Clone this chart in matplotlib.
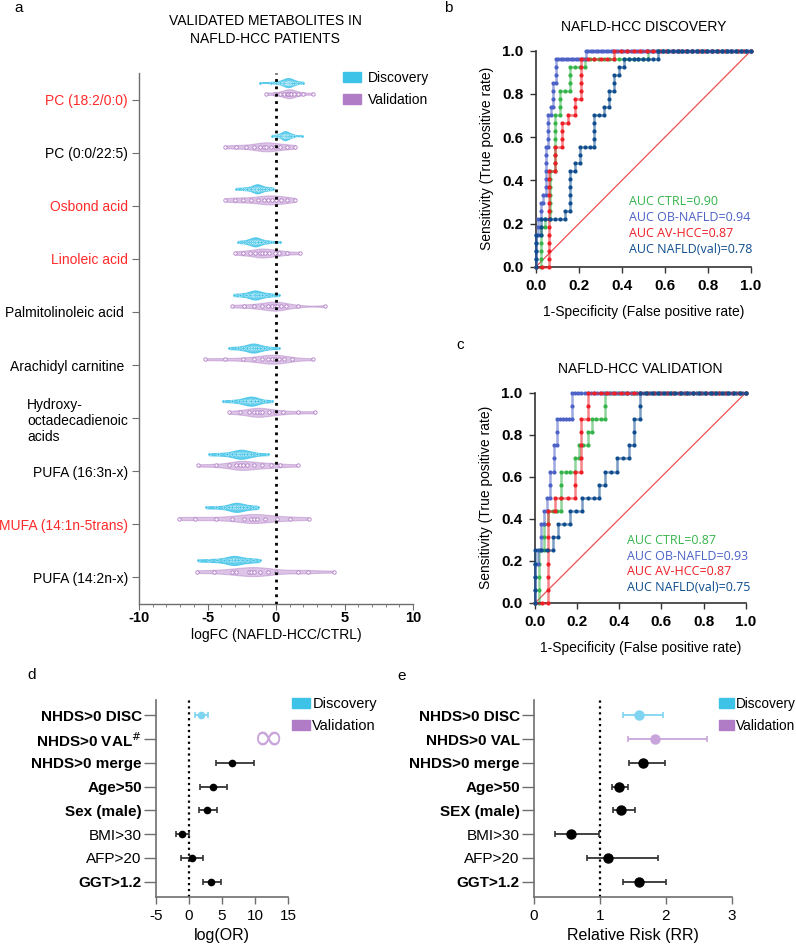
import numpy as np
import matplotlib
matplotlib.use("Agg")
import matplotlib.pyplot as plt
import matplotlib.ticker as ticker
from matplotlib.patches import Patch

plt.rcParams['font.family'] = ['Liberation Sans', 'DejaVu Sans']
plt.rcParams['axes.unicode_minus'] = False

# ---------------- panel a data ----------------
metabolites = ['PC (18:2/0:0)', 'PC (0:0/22:5)', 'Osbond acid', 'Linoleic acid',
               'Palmitolinoleic acid ', 'Arachidyl carnitine ',
               'Hydroxy-\noctadecadienoic\nacids', 'PUFA (16:3n-x)',
               'MUFA (14:1n-5trans)', 'PUFA (14:2n-x)']
metab_red = [True, False, True, True, False, False, False, False, True, False]

disc_fc = [
    [-1.2, -0.4, 0.0, 0.3, 0.5, 0.6, 0.7, 0.8, 0.85, 0.9, 0.95, 1.0, 1.1, 1.2, 1.35, 1.6, 2.0],
    [-0.3, 0.1, 0.3, 0.45, 0.55, 0.6, 0.65, 0.7, 0.75, 0.85, 0.95, 1.1, 1.3, 1.9],
    [-2.9, -2.4, -2.1, -1.8, -1.6, -1.5, -1.4, -1.35, -1.3, -1.2, -1.0, -0.8, -0.5, -0.2],
    [-2.75, -2.3, -2.0, -1.8, -1.65, -1.55, -1.5, -1.4, -1.3, -1.1, -0.8, -0.4, 0.3],
    [-3.1, -2.6, -2.2, -1.9, -1.7, -1.6, -1.5, -1.4, -1.25, -1.0, -0.7, -0.3, 0.2],
    [-3.4, -2.8, -2.4, -2.1, -1.9, -1.75, -1.65, -1.55, -1.4, -1.2, -0.9, -0.5, 0.2],
    [-3.9, -3.2, -2.7, -2.4, -2.2, -2.0, -1.9, -1.8, -1.6, -1.5, -1.3, -0.9, -0.3],
    [-4.9, -4.2, -3.6, -3.2, -2.9, -2.7, -2.6, -2.5, -2.3, -2.1, -1.8, -1.4, -0.55],
    [-5.1, -4.4, -3.8, -3.4, -3.2, -3.0, -2.9, -2.8, -2.6, -2.4, -2.1, -1.7, -1.3],
    [-5.7, -4.9, -4.3, -3.8, -3.4, -3.2, -3.1, -3.0, -2.8, -2.5, -2.1, -1.7, -1.2],
]
val_fc = [
    [-0.7, -0.1, 0.3, 0.6, 0.8, 0.9, 1.0, 1.1, 1.3, 1.6, 2.0, 2.7],
    [-3.7, -2.9, -2.2, -1.6, -1.2, -0.9, -0.7, -0.4, -0.1, 0.3, 0.8, 1.4],
    [-3.7, -3.0, -2.4, -1.8, -1.3, -0.9, -0.6, -0.3, 0.0, 0.4, 0.8, 1.4],
    [-3.0, -2.4, -1.9, -1.5, -1.2, -1.0, -0.8, -0.5, -0.1, 0.2, 0.8, 1.75],
    [-3.2, -2.3, -1.6, -1.0, -0.6, -0.3, -0.1, 0.1, 0.4, 0.7, 1.6, 3.6],
    [-5.2, -3.7, -2.4, -1.6, -1.0, -0.6, -0.3, -0.1, 0.2, 0.6, 1.2, 2.7],
    [-3.4, -2.6, -2.0, -1.6, -1.4, -1.2, -1.0, -0.5, -0.1, 0.5, 1.6, 2.85],
    [-5.7, -4.4, -3.4, -2.9, -2.6, -2.4, -2.1, -1.6, -1.0, -0.4, 0.3, 1.6],
    [-7.1, -5.9, -4.4, -3.2, -2.3, -1.8, -1.6, -1.4, -0.8, 0.1, 1.0, 2.4],
    [-5.8, -4.5, -3.2, -2.9, -2.0, -1.8, -1.6, -1.2, -0.6, 0.0, 1.6, 2.3, 4.2],
]

# ---------------- ROC data (cumulative FP / TP counts at curve corners) ----------------
roc_names = ['AUC CTRL', 'AUC OB-NAFLD', 'AUC AV-HCC', 'AUC NAFLD(val)']
roc_colors = ['#35b44a', '#4c62c6', '#ee1f26', '#0f4d8f']

disc_npos = 27
disc_nneg = [44, 86, 33, 44]
disc_auc = ['0.90', '0.94', '0.87', '0.78']
disc_fp = [
    [0, 1, 1, 2, 2, 3, 3, 4, 4, 5, 5, 7, 7, 10, 10, 23, 23, 44],
    [0, 0, 1, 1, 2, 2, 3, 3, 4, 4, 5, 5, 6, 6, 7, 7, 8, 8, 20, 20, 86],
    [0, 2, 2, 3, 3, 4, 4, 5, 5, 6, 6, 7, 7, 12, 12, 33],
    [0, 0, 1, 1, 6, 6, 7, 7, 8, 8, 9, 9, 12, 12, 14, 14, 15, 15, 16, 16, 17, 17, 18, 18, 25, 25, 44],
]
disc_tp = [
    [0, 0, 5, 5, 6, 6, 12, 12, 19, 19, 22, 22, 25, 25, 26, 26, 27, 27],
    [0, 4, 4, 6, 6, 8, 8, 9, 9, 15, 15, 19, 19, 20, 20, 23, 23, 26, 26, 27, 27],
    [0, 0, 12, 12, 15, 15, 18, 18, 19, 19, 21, 21, 26, 26, 27, 27],
    [0, 4, 4, 6, 6, 7, 7, 12, 12, 13, 13, 15, 15, 19, 19, 20, 20, 22, 22, 24, 24, 25, 25, 26, 26, 27, 27],
]

val_npos = 16
val_nneg = [48, 68, 32, 36]
val_auc = ['0.87', '0.93', '0.87', '0.75']
val_fp = [
    [0, 1, 1, 2, 2, 3, 3, 6, 6, 9, 9, 10, 10, 12, 12, 13, 13, 16, 16, 48],
    [0, 0, 1, 1, 2, 2, 3, 3, 4, 4, 5, 5, 6, 6, 7, 7, 12, 12, 68],
    [0, 2, 2, 3, 3, 6, 6, 7, 7, 8, 8, 32],
    [0, 0, 3, 3, 4, 4, 6, 6, 8, 8, 11, 11, 12, 12, 14, 14, 16, 16, 17, 17, 18, 18, 36],
]
val_tp = [
    [0, 0, 4, 4, 6, 6, 7, 7, 10, 10, 11, 11, 12, 12, 13, 13, 14, 14, 16, 16],
    [0, 3, 3, 4, 4, 6, 6, 7, 7, 8, 8, 10, 10, 12, 12, 14, 14, 16, 16],
    [0, 0, 7, 7, 8, 8, 10, 10, 14, 14, 16, 16],
    [0, 4, 4, 5, 5, 6, 6, 7, 7, 8, 8, 9, 9, 10, 10, 11, 11, 12, 12, 14, 14, 16, 16],
]

# ---------------- panel d / e data ----------------
risk_labels_d = ['NHDS>0 DISC', r'NHDS>0 VAL$^{\#}$', 'NHDS>0 merge', 'Age>50', 'Sex (male)',
                 'BMI>30', 'AFP>20', 'GGT>1.2']
risk_labels_e = ['NHDS>0 DISC', 'NHDS>0 VAL', 'NHDS>0 merge', 'Age>50', 'SEX (male)',
                 'BMI>30', 'AFP>20', 'GGT>1.2']
risk_bold = [True, True, True, True, True, False, False, True]
risk_group = ['disc', 'val', 'all', 'all', 'all', 'all', 'all', 'all']

log_or = [1.8, np.nan, 6.6, 3.7, 2.75, -1.05, 0.5, 3.4]
log_or_lo = [0.9, np.nan, 4.1, 1.65, 1.5, -2.0, -1.1, 2.15]
log_or_hi = [2.9, np.nan, 9.85, 5.8, 4.2, 0.05, 2.15, 4.8]
log_or_inf_x = 12.1

rr = [1.59, 1.84, 1.66, 1.29, 1.33, 0.57, 1.12, 1.60]
rr_lo = [1.36, 1.43, 1.45, 1.18, 1.20, 0.33, 0.80, 1.36]
rr_hi = [1.96, 2.62, 1.99, 1.43, 1.53, 0.99, 1.89, 2.00]

DISC = '#3ec3e8'
VAL = '#b07cc6'
DISC_L = '#7fd4f2'
VAL_L = '#c9a5dc'
GRAY = '#6e6e6e'


def expand(fp_c, tp_c):
    xs, ys = [fp_c[0]], [tp_c[0]]
    for i in range(1, len(fp_c)):
        x, y = xs[-1], ys[-1]
        while x < fp_c[i]:
            x += 1
            xs.append(x)
            ys.append(y)
        while y < tp_c[i]:
            y += 1
            xs.append(x)
            ys.append(y)
    return np.array(xs, dtype=float), np.array(ys, dtype=float)


def roc_panel(ax, fps, tps, nnegs, npos, aucs, title, text_y):
    ax.plot([0, 1], [0, 1], color='#f05050', lw=0.9, zorder=1)
    order = [1, 0, 2, 3]
    for k in order:
        x, y = expand(fps[k], tps[k])
        fpr = x / nnegs[k]
        tpr = y / npos
        ax.plot(fpr, tpr, '-', color=roc_colors[k], lw=1.8, alpha=0.55, zorder=2 + k, clip_on=False)
        ax.plot(fpr, tpr, 'o', color=roc_colors[k], ms=3.0, mec='none', zorder=2 + k, clip_on=False)
    for k in range(4):
        ax.text(0.435, text_y - k * 0.0745, f'{roc_names[k]}={aucs[k]}', color=roc_colors[k],
                fontsize=9, family=['Open Sans', 'DejaVu Sans'], transform=ax.transAxes, va='center')
    ax.set_xlim(0, 1)
    ax.set_ylim(0, 1)
    ax.set_xticks(np.arange(0, 1.01, 0.2))
    ax.set_yticks(np.arange(0, 1.01, 0.2))
    ax.xaxis.set_major_formatter(ticker.FormatStrFormatter('%.1f'))
    ax.yaxis.set_major_formatter(ticker.FormatStrFormatter('%.1f'))
    for lab in ax.get_xticklabels() + ax.get_yticklabels():
        lab.set_fontweight('bold')
    ax.tick_params(labelsize=11, length=4, width=1, color='#333333', pad=5)
    ax.spines[['top', 'right']].set_visible(False)
    for s in ['left', 'bottom']:
        ax.spines[s].set_color('#333333')
        ax.spines[s].set_linewidth(1.2)
    ax.set_xlabel('1-Specificity (False positive rate)', fontsize=10, labelpad=8)
    ax.set_ylabel('Sensitivity (True positive rate)', fontsize=10, labelpad=6)
    ax.set_title(title, fontsize=10, pad=14)


def risk_panel(ax, labels, est, lo, hi, ms, xlim, xticks, xlabel, refx):
    ypos = np.arange(len(labels))
    ax.axvline(refx, color='black', ls=':', lw=1.6, zorder=1)
    for i in range(len(labels)):
        if np.isnan(est[i]):
            continue
        c = {'disc': DISC_L, 'val': VAL_L, 'all': 'black'}[risk_group[i]]
        ax.errorbar(est[i], ypos[i], xerr=[[est[i] - lo[i]], [hi[i] - est[i]]], fmt='o',
                    color=c, ecolor=c if risk_group[i] != 'all' else '#333333', ms=ms,
                    elinewidth=1.3, capsize=2.5, capthick=1.2, zorder=3)
    ax.set_ylim(len(labels) - 0.35, -0.65)
    ax.set_yticks(ypos)
    ax.set_yticklabels(labels)
    for lab, b in zip(ax.get_yticklabels(), risk_bold):
        lab.set_fontweight('bold' if b else 'normal')
    ax.set_xlim(*xlim)
    ax.set_xticks(xticks)
    ax.tick_params(axis='y', labelsize=11, length=9, width=1, color=GRAY, pad=1)
    ax.tick_params(axis='x', labelsize=11, length=5, width=1, color=GRAY, pad=4)
    ax.spines[['top', 'right']].set_visible(False)
    for s in ['left', 'bottom']:
        ax.spines[s].set_color(GRAY)
        ax.spines[s].set_linewidth(1.2)
    ax.set_xlabel(xlabel, fontsize=11.5, labelpad=3)


fig = plt.figure(figsize=(7.96, 9.48), dpi=100)
W, H = 796.0, 948.0


def box(l, t, r, b):
    return [l / W, 1 - b / H, (r - l) / W, (b - t) / H]


# ---------------- panel a ----------------
ax_a = fig.add_axes(box(139, 73, 413, 604))
ncat = len(metabolites)
pos = np.arange(ncat)
vd = ax_a.violinplot(disc_fc, positions=pos - 0.32, orientation='horizontal', widths=0.17,
                     showextrema=False, bw_method=0.35)
vv = ax_a.violinplot(val_fc, positions=pos - 0.11, orientation='horizontal', widths=0.17,
                     showextrema=False, bw_method=0.35)
for body in vd['bodies']:
    body.set_facecolor(DISC)
    body.set_edgecolor(DISC)
    body.set_alpha(0.8)
    body.set_linewidth(0.8)
for body in vv['bodies']:
    body.set_facecolor(VAL)
    body.set_edgecolor(VAL)
    body.set_alpha(0.45)
    body.set_linewidth(0.8)
for i in range(ncat):
    ax_a.scatter(disc_fc[i], np.full(len(disc_fc[i]), i - 0.32), s=5, color=DISC,
                 edgecolors='white', linewidths=0.3, zorder=3)
    ax_a.scatter(val_fc[i], np.full(len(val_fc[i]), i - 0.11), s=6, color='white',
                 edgecolors=VAL, linewidths=0.6, zorder=3)
ax_a.axvline(0, color='black', ls=':', lw=2, zorder=4)
ax_a.set_xlim(-10, 10)
ax_a.set_ylim(ncat - 0.5, -0.5)
ax_a.set_yticks(pos)
ax_a.set_yticklabels(metabolites, multialignment='left')
for lab, red in zip(ax_a.get_yticklabels(), metab_red):
    lab.set_color('#ff2a2a' if red else 'black')
ax_a.set_xticks([-10, -5, 0, 5, 10])
ax_a.xaxis.set_minor_locator(ticker.MultipleLocator(1))
for lab in ax_a.get_xticklabels():
    lab.set_fontweight('bold')
ax_a.tick_params(axis='y', labelsize=10, length=5, color=GRAY, pad=3)
ax_a.tick_params(axis='x', labelsize=10.5, length=4, color=GRAY, pad=1)
ax_a.tick_params(axis='x', which='minor', length=2.5, color=GRAY)
ax_a.spines[['top', 'right']].set_visible(False)
for s in ['left', 'bottom']:
    ax_a.spines[s].set_color(GRAY)
    ax_a.spines[s].set_linewidth(1.0)
ax_a.set_xlabel('logFC (NAFLD-HCC/CTRL)', fontsize=10, labelpad=2)
fig.text(265 / W, 1 - 30 / H, 'VALIDATED METABOLITES IN\nNAFLD-HCC PATIENTS', ha='center',
         va='center', fontsize=10, linespacing=1.3)
fig.legend(handles=[Patch(color=DISC, label='Discovery'), Patch(color=VAL, label='Validation')],
           loc='upper left', bbox_to_anchor=(343 / W, 1 - 71 / H), frameon=False, fontsize=10,
           handlelength=1.3, handleheight=0.7, handletextpad=0.5, labelspacing=0.55,
           borderpad=0, borderaxespad=0)

# ---------------- panel b / c ----------------
ax_b = fig.add_axes(box(535.7, 50.7, 751, 267))
roc_panel(ax_b, disc_fp, disc_tp, disc_nneg, disc_npos, disc_auc, 'NAFLD-HCC DISCOVERY', 0.305)
ax_c = fig.add_axes(box(535, 392.7, 745.7, 603))
roc_panel(ax_c, val_fp, val_tp, val_nneg, val_npos, val_auc, 'NAFLD-HCC VALIDATION', 0.297)

# ---------------- panel d ----------------
ax_d = fig.add_axes(box(155.7, 700, 288, 897))
risk_panel(ax_d, risk_labels_d, log_or, log_or_lo, log_or_hi, 4.5, (-5, 15), [-5, 0, 5, 10, 15],
           'log(OR)', 0)
ax_d.text(log_or_inf_x, 1, '\u221e', color=VAL_L, fontsize=27, ha='center', va='center',
          family=['DejaVu Sans'])
fig.legend(handles=[Patch(color=DISC, label='Discovery'), Patch(color=VAL, label='Validation')],
           loc='upper left', bbox_to_anchor=(292 / W, 1 - 697 / H), frameon=False, fontsize=10.5,
           handlelength=1.2, handleheight=0.7, handletextpad=0.2, labelspacing=0.55,
           borderpad=0, borderaxespad=0)

# ---------------- panel e ----------------
ax_e = fig.add_axes(box(533.7, 700, 731.7, 897))
risk_panel(ax_e, risk_labels_e, rr, rr_lo, rr_hi, 6.5, (0, 3), [0, 1, 2, 3],
           'Relative Risk (RR)', 1)
fig.legend(handles=[Patch(color=DISC, label='Discovery'), Patch(color=VAL, label='Validation')],
           loc='upper left', bbox_to_anchor=(719 / W, 1 - 697 / H), frameon=False, fontsize=9.8,
           handlelength=1.1, handleheight=0.75, handletextpad=0.15, labelspacing=0.6,
           borderpad=0, borderaxespad=0)

# panel letters
for letter, x, y in [('a', 19, 8), ('b', 448, 8), ('c', 460, 345), ('d', 32, 675), ('e', 402, 676)]:
    fig.text(x / W, 1 - y / H, letter, fontsize=11, ha='center', va='center')

fig.savefig('out.png', dpi=100)
